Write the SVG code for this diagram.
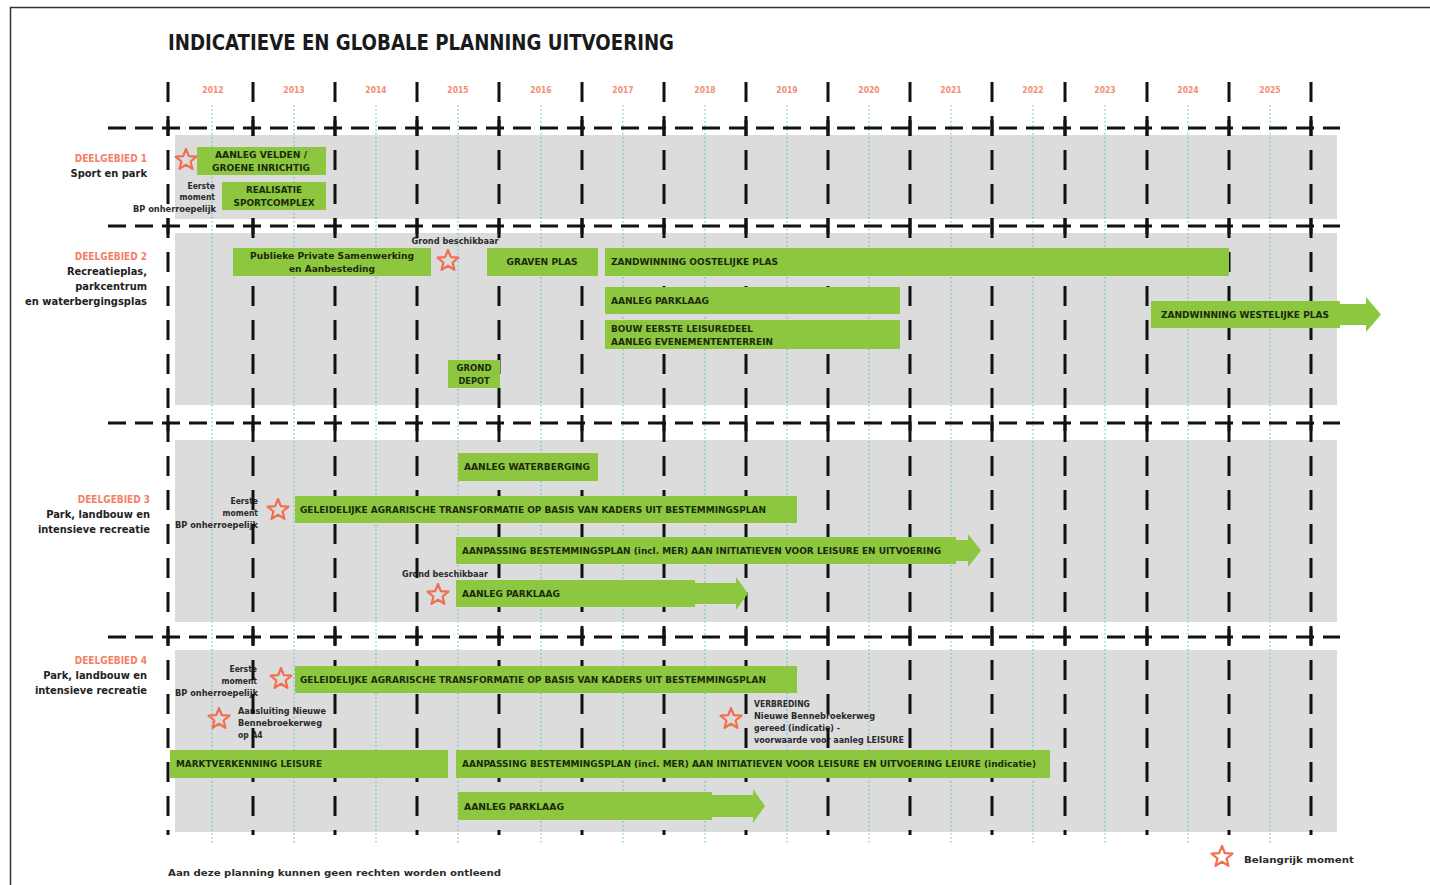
<svg xmlns="http://www.w3.org/2000/svg" width="1430" height="885" viewBox="0 0 1430 885">
<defs>
<style>
.bar{fill:#8dc63f}
.bt{font-family:"DejaVu Sans Condensed","Liberation Sans",sans-serif;font-weight:bold;font-size:9.5px;fill:#1c2a0e}
.btm{text-anchor:middle}
.lab{font-family:"DejaVu Sans Condensed","Liberation Sans",sans-serif;font-weight:bold;font-size:11px;fill:#222;text-anchor:end}
.dg{font-family:"DejaVu Sans Condensed","Liberation Sans",sans-serif;font-weight:bold;font-size:10px;fill:#f26b4a;text-anchor:end;opacity:0.85}
.ann{font-family:"DejaVu Sans Condensed","Liberation Sans",sans-serif;font-weight:bold;font-size:8.5px;fill:#2a2a2a}
.yr{font-family:"DejaVu Sans Condensed","Liberation Sans",sans-serif;font-weight:bold;font-size:8.5px;fill:#f07a5a;text-anchor:middle;opacity:0.85}
.star{fill:none;stroke:#f07050;stroke-width:2.2;stroke-linejoin:round}
.panel{fill:#dcdcdc}
.vdash{stroke:#111;stroke-width:3;stroke-dasharray:20 14}
.hdash{stroke:#111;stroke-width:3;stroke-dasharray:18 9}
.dot{stroke:#4fb6c6;stroke-width:1;stroke-dasharray:1.5 2.5}
.tick{stroke:#111;stroke-width:3}
</style>
<path id="star" d="M0,-11 L2.82,-3.88 L10.46,-3.4 L4.57,1.48 L6.47,8.9 L0,4.8 L-6.47,8.9 L-4.57,1.48 L-10.46,-3.4 L-2.82,-3.88 Z"/>
</defs>
<rect x="0" y="0" width="1430" height="885" fill="#ffffff"/>
<path d="M10.5,885 V7.5 H1430" fill="none" stroke="#333" stroke-width="1.5"/>

<g id="title">
<text x="168" y="50" font-family="'DejaVu Sans Condensed','Liberation Sans',sans-serif" font-weight="bold" font-size="22" fill="#1a1a1a" textLength="506" lengthAdjust="spacingAndGlyphs">INDICATIEVE EN GLOBALE PLANNING UITVOERING</text>
</g>

<g id="panels">
<rect class="panel" x="175" y="135" width="1162" height="84"/>
<rect class="panel" x="175" y="233" width="1162" height="172"/>
<rect class="panel" x="175" y="440" width="1162" height="182"/>
<rect class="panel" x="175" y="650" width="1162" height="182"/>
</g>

<g id="years">
<text class="yr" x="213" y="93">2012</text>
<text class="yr" x="294" y="93">2013</text>
<text class="yr" x="376" y="93">2014</text>
<text class="yr" x="458" y="93">2015</text>
<text class="yr" x="541" y="93">2016</text>
<text class="yr" x="623" y="93">2017</text>
<text class="yr" x="705" y="93">2018</text>
<text class="yr" x="787" y="93">2019</text>
<text class="yr" x="869" y="93">2020</text>
<text class="yr" x="951" y="93">2021</text>
<text class="yr" x="1033" y="93">2022</text>
<text class="yr" x="1105" y="93">2023</text>
<text class="yr" x="1188" y="93">2024</text>
<text class="yr" x="1270" y="93">2025</text>
</g>

<g id="midlines">
<path class="dot" d="M212,105V845M294,105V845M376,105V845M458,105V845M541,105V845M623,105V845M705,105V845M787,105V845M869,105V845M951,105V845M1033,105V845M1105,105V845M1188,105V845M1270,105V845"/>
</g>

<g id="annotations">
<use href="#star" class="star" x="186" y="160"/>
<text class="ann" x="215" y="189" text-anchor="end">Eerste</text>
<text class="ann" x="215" y="200" text-anchor="end">moment</text>
<text class="ann" x="216" y="212" text-anchor="end" textLength="83" lengthAdjust="spacingAndGlyphs">BP onherroepelijk</text>

<text class="ann" x="455" y="244" text-anchor="middle" textLength="87" lengthAdjust="spacingAndGlyphs">Grond beschikbaar</text>
<use href="#star" class="star" x="448" y="261"/>

<text class="ann" x="258" y="504" text-anchor="end">Eerste</text>
<text class="ann" x="258" y="516" text-anchor="end">moment</text>
<text class="ann" x="258" y="528" text-anchor="end" textLength="83" lengthAdjust="spacingAndGlyphs">BP onherroepelijk</text>
<use href="#star" class="star" x="278" y="510"/>

<text class="ann" x="445" y="577" text-anchor="middle" textLength="86" lengthAdjust="spacingAndGlyphs">Grond beschikbaar</text>
<use href="#star" class="star" x="438" y="595"/>

<text class="ann" x="257" y="672" text-anchor="end">Eerste</text>
<text class="ann" x="257" y="684" text-anchor="end">moment</text>
<text class="ann" x="258" y="696" text-anchor="end" textLength="83" lengthAdjust="spacingAndGlyphs">BP onherroepelijk</text>
<use href="#star" class="star" x="281" y="679"/>

<use href="#star" class="star" x="219" y="719"/>
<text class="ann" x="238" y="714" textLength="88" lengthAdjust="spacingAndGlyphs">Aansluiting Nieuwe</text>
<text class="ann" x="238" y="726" textLength="84" lengthAdjust="spacingAndGlyphs">Bennebroekerweg</text>
<text class="ann" x="238" y="738">op A4</text>

<use href="#star" class="star" x="731" y="719"/>
<text class="ann" x="754" y="707">VERBREDING</text>
<text class="ann" x="754" y="719" textLength="121" lengthAdjust="spacingAndGlyphs">Nieuwe Bennebroekerweg</text>
<text class="ann" x="754" y="731" textLength="86" lengthAdjust="spacingAndGlyphs">gereed (indicatie) -</text>
<text class="ann" x="754" y="743" textLength="150" lengthAdjust="spacingAndGlyphs">voorwaarde voor aanleg LEISURE</text>
</g>

<g id="grid">
<path class="vdash" d="M168,82V835M253,82V835M335,82V835M417,82V835M499,82V835M582,82V835M664,82V835M746,82V835M828,82V835M910,82V835M992,82V835M1065,82V835M1147,82V835M1229,82V835M1311,82V835"/>
<path class="hdash" d="M108,128H1340M108,226H1340M108,423H1340M108,637H1340"/>
<path class="tick" d="M168,120V136M253,120V136M335,120V136M417,120V136M499,120V136M582,120V136M664,120V136M746,120V136M828,120V136M910,120V136M992,120V136M1065,120V136M1147,120V136M1229,120V136M1311,120V136
M168,218V234M253,218V234M335,218V234M417,218V234M499,218V234M582,218V234M664,218V234M746,218V234M828,218V234M910,218V234M992,218V234M1065,218V234M1147,218V234M1229,218V234M1311,218V234
M168,415V431M253,415V431M335,415V431M417,415V431M499,415V431M582,415V431M664,415V431M746,415V431M828,415V431M910,415V431M992,415V431M1065,415V431M1147,415V431M1229,415V431M1311,415V431
M168,629V645M253,629V645M335,629V645M417,629V645M499,629V645M582,629V645M664,629V645M746,629V645M828,629V645M910,629V645M992,629V645M1065,629V645M1147,629V645M1229,629V645M1311,629V645"/>
</g>

<g id="deelgebied1-label">
<text class="dg" x="147" y="162">DEELGEBIED 1</text>
<text class="lab" x="147" y="177">Sport en park</text>
</g>
<g id="deelgebied2-label">
<text class="dg" x="147" y="260">DEELGEBIED 2</text>
<text class="lab" x="147" y="275">Recreatieplas,</text>
<text class="lab" x="147" y="290">parkcentrum</text>
<text class="lab" x="147" y="305" textLength="122" lengthAdjust="spacingAndGlyphs">en waterbergingsplas</text>
</g>
<g id="deelgebied3-label">
<text class="dg" x="150" y="503">DEELGEBIED 3</text>
<text class="lab" x="150" y="518">Park, landbouw en</text>
<text class="lab" x="150" y="533">intensieve recreatie</text>
</g>
<g id="deelgebied4-label">
<text class="dg" x="147" y="664">DEELGEBIED 4</text>
<text class="lab" x="147" y="679">Park, landbouw en</text>
<text class="lab" x="147" y="694">intensieve recreatie</text>
</g>

<g id="aanleg-velden">
<rect class="bar" x="197" y="147" width="129" height="28"/>
<text class="bt btm" x="261" y="158" textLength="92" lengthAdjust="spacingAndGlyphs">AANLEG VELDEN /</text>
<text class="bt btm" x="261" y="171" textLength="98" lengthAdjust="spacingAndGlyphs">GROENE INRICHTIG</text>
</g>
<g id="realisatie-sportcomplex">
<rect class="bar" x="222" y="182" width="104" height="28"/>
<text class="bt btm" x="274" y="193" textLength="56" lengthAdjust="spacingAndGlyphs">REALISATIE</text>
<text class="bt btm" x="274" y="206" textLength="81" lengthAdjust="spacingAndGlyphs">SPORTCOMPLEX</text>
</g>

<g id="pps">
<rect class="bar" x="233" y="248" width="198" height="28"/>
<text class="bt btm" x="332" y="259" textLength="164" lengthAdjust="spacingAndGlyphs">Publieke Private Samenwerking</text>
<text class="bt btm" x="332" y="272" textLength="86" lengthAdjust="spacingAndGlyphs">en Aanbesteding</text>
</g>
<g id="graven-plas">
<rect class="bar" x="487" y="248" width="111" height="28"/>
<text class="bt btm" x="542" y="265" textLength="71" lengthAdjust="spacingAndGlyphs">GRAVEN PLAS</text>
</g>
<g id="zandwinning-oost">
<rect class="bar" x="605" y="248" width="624" height="28"/>
<text class="bt" x="611" y="265" textLength="167" lengthAdjust="spacingAndGlyphs">ZANDWINNING OOSTELIJKE PLAS</text>
</g>
<g id="aanleg-parklaag-2">
<rect class="bar" x="605" y="287" width="295" height="27"/>
<text class="bt" x="611" y="304" textLength="98" lengthAdjust="spacingAndGlyphs">AANLEG PARKLAAG</text>
</g>
<g id="bouw-leisuredeel">
<rect class="bar" x="605" y="320" width="295" height="29"/>
<text class="bt" x="611" y="332" textLength="142" lengthAdjust="spacingAndGlyphs">BOUW EERSTE LEISUREDEEL</text>
<text class="bt" x="611" y="345" textLength="162" lengthAdjust="spacingAndGlyphs">AANLEG EVENEMENTENTERREIN</text>
</g>
<g id="grond-depot">
<rect class="bar" x="448" y="360" width="52" height="28"/>
<text class="bt btm" x="474" y="371" textLength="35" lengthAdjust="spacingAndGlyphs">GROND</text>
<text class="bt btm" x="474" y="384" textLength="31" lengthAdjust="spacingAndGlyphs">DEPOT</text>
</g>
<g id="zandwinning-west">
<path class="bar" d="M1151,301H1340V304H1366V297L1381,314.5L1366,332V325H1340V328H1151Z"/>
<text class="bt" x="1161" y="318" textLength="168" lengthAdjust="spacingAndGlyphs">ZANDWINNING WESTELIJKE PLAS</text>
</g>

<g id="aanleg-waterberging">
<rect class="bar" x="458" y="453" width="140" height="28"/>
<text class="bt" x="464" y="470" textLength="126" lengthAdjust="spacingAndGlyphs">AANLEG WATERBERGING</text>
</g>
<g id="geleidelijke-3">
<rect class="bar" x="295" y="496" width="502" height="27"/>
<text class="bt" x="300" y="513" textLength="466" lengthAdjust="spacingAndGlyphs">GELEIDELIJKE AGRARISCHE TRANSFORMATIE OP BASIS VAN KADERS UIT BESTEMMINGSPLAN</text>
</g>
<g id="aanpassing-3">
<path class="bar" d="M456,537H956V540H968V534L981,550.5L968,567V561H956V564H456Z"/>
<text class="bt" x="462" y="554" textLength="479" lengthAdjust="spacingAndGlyphs">AANPASSING BESTEMMINGSPLAN (incl. MER) AAN INITIATIEVEN VOOR LEISURE EN UITVOERING</text>
</g>
<g id="aanleg-parklaag-3">
<path class="bar" d="M456,580H695V583H736V577L748,593.5L736,610V604H695V607H456Z"/>
<text class="bt" x="462" y="597" textLength="98" lengthAdjust="spacingAndGlyphs">AANLEG PARKLAAG</text>
</g>

<g id="geleidelijke-4">
<rect class="bar" x="295" y="666" width="502" height="27"/>
<text class="bt" x="300" y="683" textLength="466" lengthAdjust="spacingAndGlyphs">GELEIDELIJKE AGRARISCHE TRANSFORMATIE OP BASIS VAN KADERS UIT BESTEMMINGSPLAN</text>
</g>
<g id="marktverkenning">
<rect class="bar" x="170" y="750" width="278" height="28"/>
<text class="bt" x="176" y="767" textLength="146" lengthAdjust="spacingAndGlyphs">MARKTVERKENNING LEISURE</text>
</g>
<g id="aanpassing-4">
<rect class="bar" x="456" y="750" width="594" height="28"/>
<text class="bt" x="462" y="767" textLength="574" lengthAdjust="spacingAndGlyphs">AANPASSING BESTEMMINGSPLAN (incl. MER) AAN INITIATIEVEN VOOR LEISURE EN UITVOERING LEIURE (indicatie)</text>
</g>
<g id="aanleg-parklaag-4">
<path class="bar" d="M458,792H712V795H753V789L765,806L753,823V817H712V820H458Z"/>
<text class="bt" x="464" y="810" textLength="100" lengthAdjust="spacingAndGlyphs">AANLEG PARKLAAG</text>
</g>

<g id="footer">
<text class="ann" x="168" y="876" font-size="10" textLength="333" lengthAdjust="spacingAndGlyphs">Aan deze planning kunnen geen rechten worden ontleend</text>
</g>
<g id="legend">
<use href="#star" class="star" x="1222" y="857"/>
<text class="ann" x="1244" y="863" font-size="10" textLength="110" lengthAdjust="spacingAndGlyphs">Belangrijk moment</text>
</g>
</svg>
